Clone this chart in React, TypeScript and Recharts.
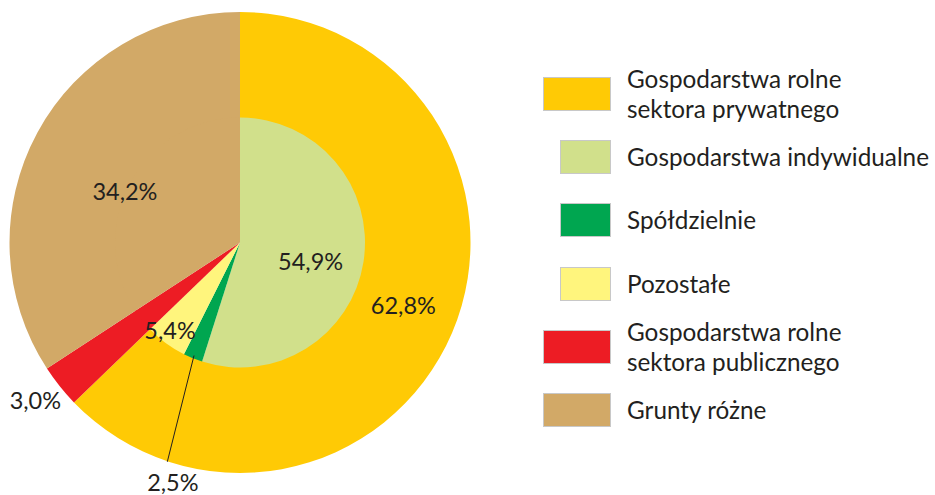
import React from 'react';
import { PieChart, Pie, Cell, Legend } from 'recharts';

// ---- data ----
const outerNames = [
  'Gospodarstwa rolne sektora prywatnego',
  'Gospodarstwa rolne sektora publicznego',
  'Grunty różne',
];
const outerValues = [62.8, 3.0, 34.2];

const innerNames = [
  'Gospodarstwa indywidualne',
  'Spółdzielnie',
  'Pozostałe',
  'Gospodarstwa rolne sektora publicznego',
  'Grunty różne',
];
const innerValues = [54.9, 2.5, 5.4, 3.0, 34.2];

const legendLabels = [
  ['Gospodarstwa rolne', 'sektora prywatnego'],
  ['Gospodarstwa indywidualne'],
  ['Spółdzielnie'],
  ['Pozostałe'],
  ['Gospodarstwa rolne', 'sektora publicznego'],
  ['Grunty różne'],
];

// ---- styles ----
const COLORS: Record<string, string> = {
  'Gospodarstwa rolne sektora prywatnego': '#FFCA05',
  'Gospodarstwa indywidualne': '#D1E08B',
  'Spółdzielnie': '#00A650',
  'Pozostałe': '#FFF57D',
  'Gospodarstwa rolne sektora publicznego': '#ED1C24',
  'Grunty różne': '#D2A967',
};
const legendColors = ['#FFCA05', '#D1E08B', '#00A650', '#FFF57D', '#ED1C24', '#D2A967'];
const legendSub = [false, true, true, true, false, false];

const FONT = 'Lato, "Open Sans", sans-serif';
const TEXT = '#231F20';
const LABEL_SIZE = 23.5;
const LEGEND_SIZE = 24.3;

const outerData = outerNames.map((name, i) => ({ name, value: outerValues[i] }));
const innerData = innerNames.map((name, i) => ({ name, value: innerValues[i] }));

// label placement (style config): radius, angle offset (deg), leader line
type LabelCfg = { r: number; da?: number; line?: [number, number, number] };
const outerLabelCfg: Record<number, LabelCfg> = {
  0: { r: 175, da: 2 },
  1: { r: 258, da: -1 },
  2: { r: 126, da: 4.4 },
};
const innerLabelCfg: Record<number, LabelCfg> = {
  0: { r: 73, da: -6 },
  1: { r: 249, da: 6.5, line: [122, 231, 3.8] },
  2: { r: 112, da: -2.3 },
};

const RAD = Math.PI / 180;
const fmt = (v: number) => v.toFixed(1).replace('.', ',') + '%';

const makeLabel = (cfg: Record<number, LabelCfg>) => (props: any) => {
  const { cx, cy, midAngle, index, value } = props;
  const c = cfg[index];
  if (!c) return null;
  const a = (midAngle + (c.da || 0)) * RAD;
  const x = cx + c.r * Math.cos(a);
  const y = cy - c.r * Math.sin(a);
  let line = null;
  if (c.line) {
    const a1 = midAngle * RAD;
    const a2 = (midAngle + c.line[2]) * RAD;
    line = (
      <line
        x1={cx + c.line[0] * Math.cos(a1)}
        y1={cy - c.line[0] * Math.sin(a1)}
        x2={cx + c.line[1] * Math.cos(a2)}
        y2={cy - c.line[1] * Math.sin(a2)}
        stroke="#231F20"
        strokeWidth={1}
      />
    );
  }
  return (
    <g key={`lbl-${index}`}>
      {line}
      <text
        x={x}
        y={y}
        textAnchor="middle"
        dominantBaseline="central"
        fill={TEXT}
        style={{ fontFamily: FONT, fontSize: LABEL_SIZE }}
      >
        {fmt(value)}
      </text>
    </g>
  );
};

const renderLegend = () => (
  <div style={{ position: 'relative', width: 392, height: 360, fontFamily: FONT }}>
    {legendLabels.map((lines, i) => (
      <div
        key={i}
        style={{
          position: 'absolute',
          left: 0,
          top: i * 63.2,
          height: 34,
          display: 'flex',
          alignItems: 'center',
        }}
      >
        <div style={{ width: 68, height: 34, display: 'flex', justifyContent: 'flex-end', flexShrink: 0 }}>
          <div
            style={{
              width: legendSub[i] ? 51 : 68,
              height: 34,
              boxSizing: 'border-box',
              background: legendColors[i],
              border: '1px solid #C8C8C8',
            }}
          />
        </div>
        <div
          style={{
            marginLeft: 16,
            color: TEXT,
            fontSize: LEGEND_SIZE,
            lineHeight: '30px',
            whiteSpace: 'nowrap',
          }}
        >
          {lines.map((l, j) => (
            <div key={j}>{l}</div>
          ))}
        </div>
      </div>
    ))}
  </div>
);

export default function App() {
  return (
    <div style={{ position: 'absolute', left: 0, top: 0, width: 935, height: 495, background: '#fff' }}>
      <PieChart width={935} height={495} margin={{ top: 0, right: 0, bottom: 0, left: 0 }}>
        <Pie
          data={outerData}
          dataKey="value"
          nameKey="name"
          cx={240}
          cy={242.5}
          innerRadius={124}
          outerRadius={230.5}
          startAngle={90}
          endAngle={-270}
          stroke="none"
          isAnimationActive={false}
          labelLine={false}
          label={makeLabel(outerLabelCfg)}
        >
          {outerData.map((d) => (
            <Cell key={d.name} fill={COLORS[d.name]} />
          ))}
        </Pie>
        <Pie
          data={innerData}
          dataKey="value"
          nameKey="name"
          cx={240}
          cy={242.5}
          innerRadius={0}
          outerRadius={125}
          startAngle={90}
          endAngle={-270}
          stroke="none"
          isAnimationActive={false}
          labelLine={false}
          label={makeLabel(innerLabelCfg)}
        >
          {innerData.map((d) => (
            <Cell key={d.name} fill={COLORS[d.name]} />
          ))}
        </Pie>
        <Legend
          layout="vertical"
          align="right"
          verticalAlign="top"
          content={renderLegend}
          wrapperStyle={{ position: 'absolute', left: 543, top: 77, width: 392 }}
        />
      </PieChart>
    </div>
  );
}
